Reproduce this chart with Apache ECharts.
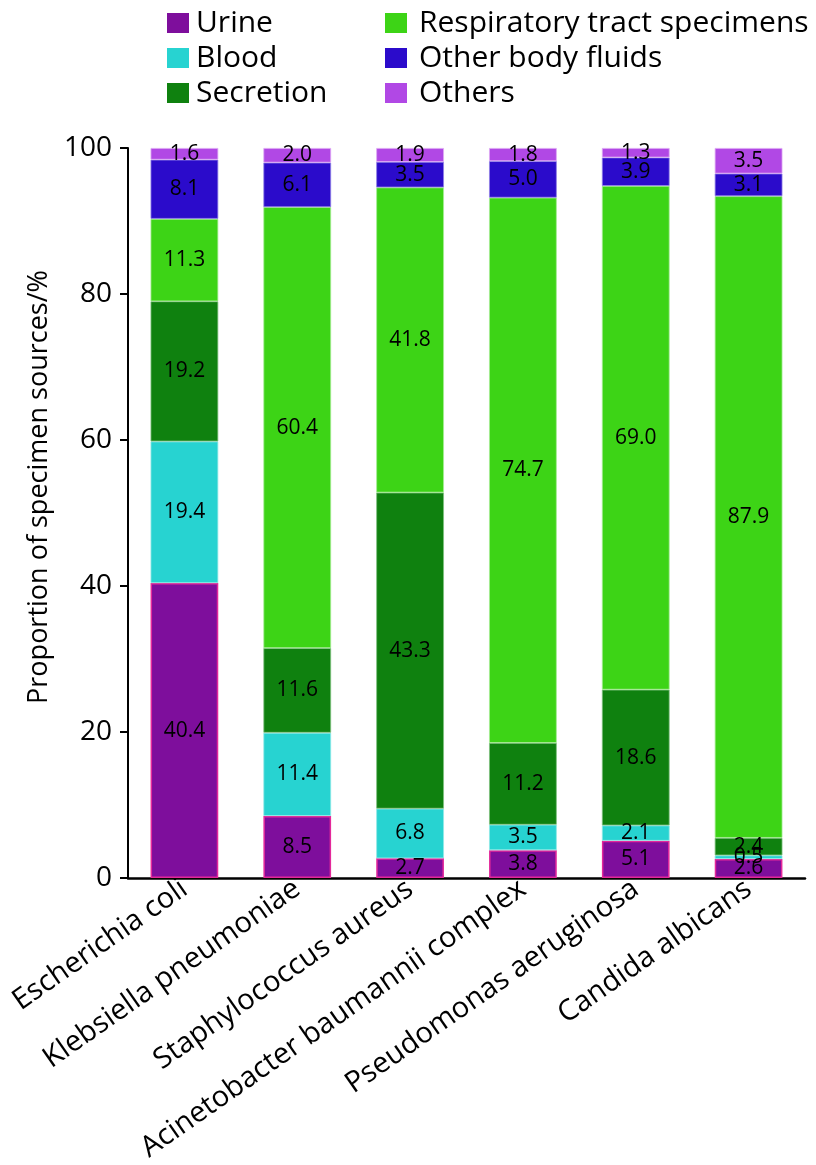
<!DOCTYPE html>
<html><head><meta charset="utf-8">
<script src="https://cdn.jsdelivr.net/npm/echarts@6/dist/echarts.min.js"></script>
<style>html,body{margin:0;padding:0;background:#fff}#c{width:816px;height:1165px}</style>
</head><body><div id="c"></div>
<script>
const categories = ["Escherichia coli","Klebsiella pneumoniae","Staphylococcus aureus","Acinetobacter baumannii complex","Pseudomonas aeruginosa","Candida albicans"];
const urine = [40.4, 8.5, 2.7, 3.8, 5.1, 2.6];
const blood = [19.4, 11.4, 6.8, 3.5, 2.1, 0.5];
const secretion = [19.2, 11.6, 43.3, 11.2, 18.6, 2.4];
const respiratory = [11.3, 60.4, 41.8, 74.7, 69.0, 87.9];
const otherFluids = [8.1, 6.1, 3.5, 5.0, 3.9, 3.1];
const others = [1.6, 2.0, 1.9, 1.8, 1.3, 3.5];
const yTicks = [0, 20, 40, 60, 80, 100];

const FONT = '"Open Sans", "Noto Sans", sans-serif';
const seriesDefs = [
  ["Urine", urine, "#7E0E9C", "#E3289A"],
  ["Blood", blood, "#27D3D1", "#8FE8E6"],
  ["Secretion", secretion, "#0F810F", "#7FC07F"],
  ["Respiratory tract specimens", respiratory, "#3DD416", "#A6EC94"],
  ["Other body fluids", otherFluids, "#2B0BCB", "#8F7FE6"],
  ["Others", others, "#B148E5", "#DDA8F4"]
];
const series = seriesDefs.map(([name, data, color, border], i) => ({
  name, type: "bar", stack: "all", data, barWidth: "60%",
  itemStyle: {color, borderColor: border, borderWidth: i === 0 ? 1.5 : 0.8},
  label: {show: true, position: "inside", color: "#000", fontFamily: FONT, fontSize: 21,
          formatter: p => p.value.toFixed(1)},
  emphasis: {disabled: true}
}));
const legendText = {fontFamily: FONT, fontSize: 30, color: "#000"};
const chart = echarts.init(document.getElementById("c"), null, {renderer: "canvas"});
chart.setOption({
  animation: false,
  backgroundColor: "#fff",
  legend: [
    {data: ["Urine","Blood","Secretion"], orient: "vertical", left: 162, top: 3, itemWidth: 22, itemHeight: 20, itemGap: 5,
     textStyle: Object.assign({}, legendText, {padding: [0,0,0,2]}), icon: "rect",
     itemStyle: {borderWidth: 0}},
    {data: ["Respiratory tract specimens","Other body fluids","Others"], orient: "vertical", left: 380, top: 3, itemWidth: 22, itemHeight: 20, itemGap: 5,
     textStyle: Object.assign({}, legendText, {padding: [0,0,0,7]}), icon: "rect",
     itemStyle: {borderWidth: 0}}
  ],
  grid: {left: 128, right: 11, top: 148, bottom: 287, containLabel: false},
  xAxis: {
    type: "category", data: categories,
    axisLine: {lineStyle: {color: "#000", width: 2.5}},
    axisTick: {show: false},
    axisLabel: {rotate: 35, fontFamily: FONT, fontSize: 29, color: "#000", margin: 8, interval: 0}
  },
  yAxis: {
    type: "value", min: 0, max: 100, interval: 20,
    name: "Proportion of specimen sources/%", nameLocation: "middle", nameGap: 70,
    nameTextStyle: {fontFamily: FONT, fontSize: 27, color: "#000", padding: [0, 0, 0, 52]},
    axisLine: {show: true, lineStyle: {color: "#000", width: 2}},
    axisTick: {show: true, length: 8, lineStyle: {color: "#000", width: 2}},
    splitLine: {show: false},
    axisLabel: {fontFamily: FONT, fontSize: 28, color: "#000", margin: 16,
                formatter: v => yTicks.includes(v) ? String(v) : ""}
  },
  series
});
</script></body></html>
